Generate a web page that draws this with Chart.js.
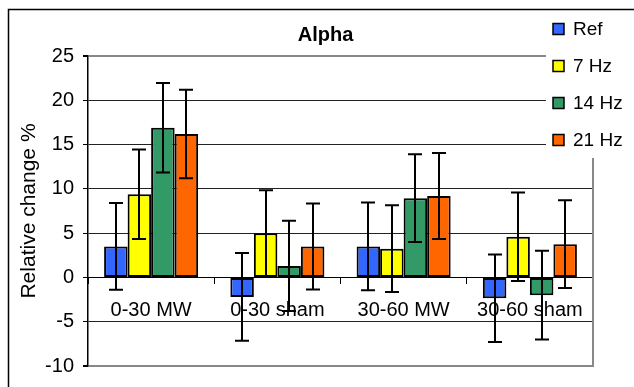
<!DOCTYPE html>
<html>
<head>
<meta charset="utf-8">
<script src="https://cdn.jsdelivr.net/npm/chart.js@4.4.0/dist/chart.umd.min.js"></script>
<style>
html,body{margin:0;padding:0;background:#fff;}
#wrap{width:634px;height:387px;position:relative;}
</style>
</head>
<body>
<div id="wrap"><canvas id="c" width="634" height="387"></canvas></div>
<script>
const categories = ['0-30 MW', '0-30 sham', '30-60 MW', '30-60 sham'];
const seriesNames = ['Ref', '7 Hz', '14 Hz', '21 Hz'];
const refValues  = [3.5, -2.2, 3.5, -2.35];
const hz7Values  = [9.4, 5.0, 3.25, 4.6];
const hz14Values = [16.9, 1.3, 8.95, -2.0];
const hz21Values = [16.2, 3.5, 9.2, 3.75];
const refErr  = [4.9, 4.95, 4.95, 4.95];
const hz7Err  = [5.05, 4.85, 4.9, 5.0];
const hz14Err = [5.05, 5.1, 4.95, 5.0];
const hz21Err = [5.0, 4.85, 4.85, 4.95];
const yTicks = [-10, -5, 0, 5, 10, 15, 20, 25];

const colors = ['#3366FF', '#FFFF00', '#339966', '#FF6600'];
const values = [refValues, hz7Values, hz14Values, hz21Values];
const errors = [refErr, hz7Err, hz14Err, hz21Err];

const FONT = "'Liberation Sans', Arial, sans-serif";

const errorBars = {
  id: 'errorBars',
  afterDatasetsDraw(chart) {
    const ctx = chart.ctx;
    const y = chart.scales.y;
    ctx.save();
    ctx.strokeStyle = '#000';
    ctx.lineWidth = 2;
    chart.data.datasets.forEach((ds, i) => {
      const meta = chart.getDatasetMeta(i);
      meta.data.forEach((el, j) => {
        const v = ds.data[j], e = ds.errors[j];
        const x = Math.round(el.x);
        const t = y.getPixelForValue(v + e), b = y.getPixelForValue(v - e);
        ctx.beginPath();
        ctx.moveTo(x, t); ctx.lineTo(x, b);
        ctx.moveTo(x - 7, t); ctx.lineTo(x + 7, t);
        ctx.moveTo(x - 7, b); ctx.lineTo(x + 7, b);
        ctx.stroke();
      });
    });
    ctx.restore();
  }
};

const frame = {
  id: 'frame',
  beforeDatasetsDraw(chart) {
    const ctx = chart.ctx, a = chart.chartArea;
    ctx.save();
    ctx.strokeStyle = '#888';
    ctx.lineWidth = 2;
    ctx.beginPath();
    ctx.moveTo(a.right, a.top); ctx.lineTo(a.right, a.bottom + 1);
    ctx.stroke();
    ctx.restore();
  },
  afterDraw(chart) {
    const ctx = chart.ctx;
    ctx.save();
    ctx.fillStyle = '#fff';
    ctx.fillRect(546, 11, 88, 147);
    ctx.font = '19px ' + FONT;
    ctx.textBaseline = 'middle';
    ctx.textAlign = 'left';
    chart.data.datasets.forEach((ds, i) => {
      const cy = 29 + i * 37;
      ctx.fillStyle = ds.backgroundColor;
      ctx.fillRect(553, cy - 5.5, 11, 11);
      ctx.strokeStyle = '#000';
      ctx.lineWidth = 1.5;
      ctx.strokeRect(553, cy - 5.5, 11, 11);
      ctx.fillStyle = '#000';
      ctx.fillText(ds.label, 573, cy + 1);
    });
    ctx.strokeStyle = '#000';
    ctx.lineWidth = 1.5;
    ctx.beginPath();
    ctx.moveTo(634, 9.5); ctx.lineTo(8.5, 9.5); ctx.lineTo(8.5, 387);
    ctx.stroke();
    ctx.restore();
  }
};

new Chart(document.getElementById('c'), {
  type: 'bar',
  data: {
    labels: categories,
    datasets: seriesNames.map((n, i) => ({
      label: n,
      data: values[i],
      errors: errors[i],
      backgroundColor: colors[i],
      borderColor: '#000',
      borderWidth: 2,
      borderSkipped: false,
      barPercentage: 1.0,
      categoryPercentage: 0.745
    }))
  },
  options: {
    responsive: false,
    animation: false,
    devicePixelRatio: 1,
    layout: { padding: { left: 17, right: 0, top: 11, bottom: 20 } },
    plugins: {
      legend: { display: false },
      tooltip: { enabled: false },
      title: {
        display: true,
        text: 'Alpha',
        color: '#000',
        font: { family: FONT, size: 20, weight: 'bold' },
        padding: { top: 12, bottom: 9 }
      }
    },
    scales: {
      x: {
        type: 'category',
        position: { y: 0 },
        offset: true,
        grid: { display: true, drawOnChartArea: false, drawTicks: true, tickLength: 6, color: '#000', offset: true },
        border: { display: true, color: '#000', width: 1 },
        ticks: { color: '#000', font: { family: FONT, size: 20 }, padding: 15, maxRotation: 0, autoSkip: false }
      },
      y: {
        type: 'linear',
        position: 'left',
        min: -10,
        max: 25,
        afterBuildTicks: s => { s.ticks = yTicks.map(v => ({ value: v })); },
        afterFit: s => { s.width = 71; },
        grid: {
          color: c => (c.tick && (c.tick.value === 25 || c.tick.value === -10)) ? '#888' : '#222',
          lineWidth: c => (c.tick && (c.tick.value === 25 || c.tick.value === -10)) ? 2 : 1,
          tickColor: '#000',
          tickLength: 5
        },
        border: { display: true, color: '#000', width: 1.5 },
        ticks: { color: '#000', font: { family: FONT, size: 20 }, padding: 9 },
        title: {
          display: true,
          text: 'Relative change %',
          color: '#000',
          font: { family: FONT, size: 21 },
          padding: { top: 0, bottom: 0 }
        }
      },
      yr: {
        type: 'linear',
        position: 'right',
        display: true,
        min: -10,
        max: 25,
        grid: { display: false, drawTicks: false },
        border: { display: false },
        ticks: { display: false },
        afterFit: s => { s.width = 41; }
      }
    }
  },
  plugins: [errorBars, frame]
});
</script>
</body>
</html>
